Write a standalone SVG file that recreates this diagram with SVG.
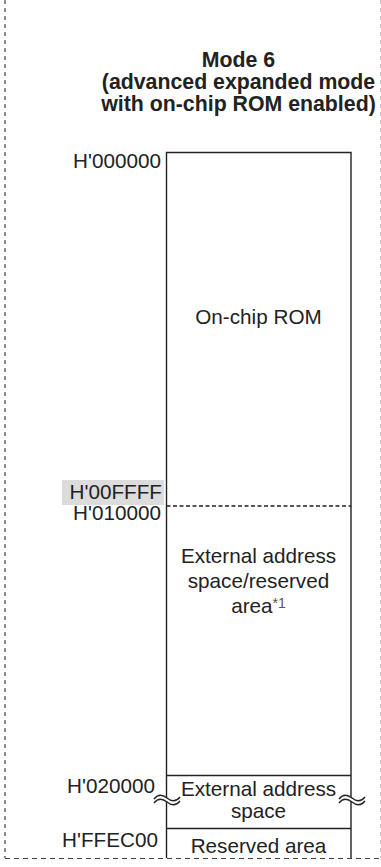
<svg xmlns="http://www.w3.org/2000/svg" width="381" height="867" viewBox="0 0 381 867">
<style>
.t{font-family:"Liberation Sans",Arial,sans-serif;font-size:20.7px;fill:#222}
.b{font-family:"Liberation Sans",Arial,sans-serif;font-size:21.3px;font-weight:bold;fill:#222;text-anchor:middle}
.c{text-anchor:middle}
.e{text-anchor:end}
.ln{stroke:#222;stroke-width:1.4;fill:none}
</style>
<rect width="381" height="867" fill="#fff"/>
<g id="frame">
<line x1="5" y1="0" x2="5" y2="858" stroke="#444" stroke-width="1.2" stroke-dasharray="4 4"/>
<line x1="380.5" y1="0" x2="380.5" y2="858" stroke="#ccc" stroke-width="1" stroke-dasharray="4 4"/>
<line x1="5" y1="858.5" x2="381" y2="858.5" stroke="#444" stroke-width="1.2" stroke-dasharray="5 4"/>
</g>
<g id="title">
<text class="b" x="238.5" y="67">Mode 6</text>
<text class="b" x="238.5" y="89">(advanced expanded mode</text>
<text class="b" x="238.5" y="111">with on-chip ROM enabled)</text>
</g>
<g id="memory-map">
<path class="ln" d="M166.5,858 V152.5 H351 V858"/>
<line x1="166.5" y1="506" x2="351" y2="506" stroke="#222" stroke-width="1.3" stroke-dasharray="4 2.5"/>
<line class="ln" x1="166.5" y1="775.5" x2="351" y2="775.5"/>
<line class="ln" x1="166.5" y1="828.5" x2="351" y2="828.5"/>
</g>
<g id="breaks">
<path d="M154,799 c4,-5 8,-5 13,-1 s9,4 13,-1 v4 c-4,5 -8,5 -13,1 s-9,-4 -13,1 z" fill="#fff"/>
<path class="ln" d="M154,799 c4,-5 8,-5 13,-1 s9,4 13,-1" stroke-width="1"/>
<path class="ln" d="M154,803 c4,-5 8,-5 13,-1 s9,4 13,-1" stroke-width="1"/>
<path d="M339,799 c4,-5 8,-5 13,-1 s9,4 13,-1 v4 c-4,5 -8,5 -13,1 s-9,-4 -13,1 z" fill="#fff"/>
<path class="ln" d="M339,799 c4,-5 8,-5 13,-1 s9,4 13,-1" stroke-width="1"/>
<path class="ln" d="M339,803 c4,-5 8,-5 13,-1 s9,4 13,-1" stroke-width="1"/>
</g>
<g id="addresses">
<text class="t e" x="161" y="168">H'000000</text>
<rect x="62" y="480" width="102" height="25" fill="#dcdcdc"/>
<text class="t e" x="162" y="499">H'00FFFF</text>
<text class="t e" x="161" y="520">H'010000</text>
<text class="t e" x="155" y="793">H'020000</text>
<text class="t e" x="158" y="847">H'FFEC00</text>
</g>
<g id="rom">
<text class="t c" x="258.5" y="324">On-chip ROM</text>
</g>
<g id="ext-reserved">
<text class="t c" x="258.5" y="563">External address</text>
<text class="t c" x="258.5" y="588">space/reserved</text>
<text class="t c" x="258.5" y="613">area<tspan font-size="14" fill="#555" dy="-5">*1</tspan></text>
</g>
<g id="ext">
<text class="t c" x="258.5" y="796">External address</text>
<text class="t c" x="258.5" y="818">space</text>
</g>
<g id="reserved">
<text class="t c" x="258.5" y="853">Reserved area</text>
</g>
</svg>
